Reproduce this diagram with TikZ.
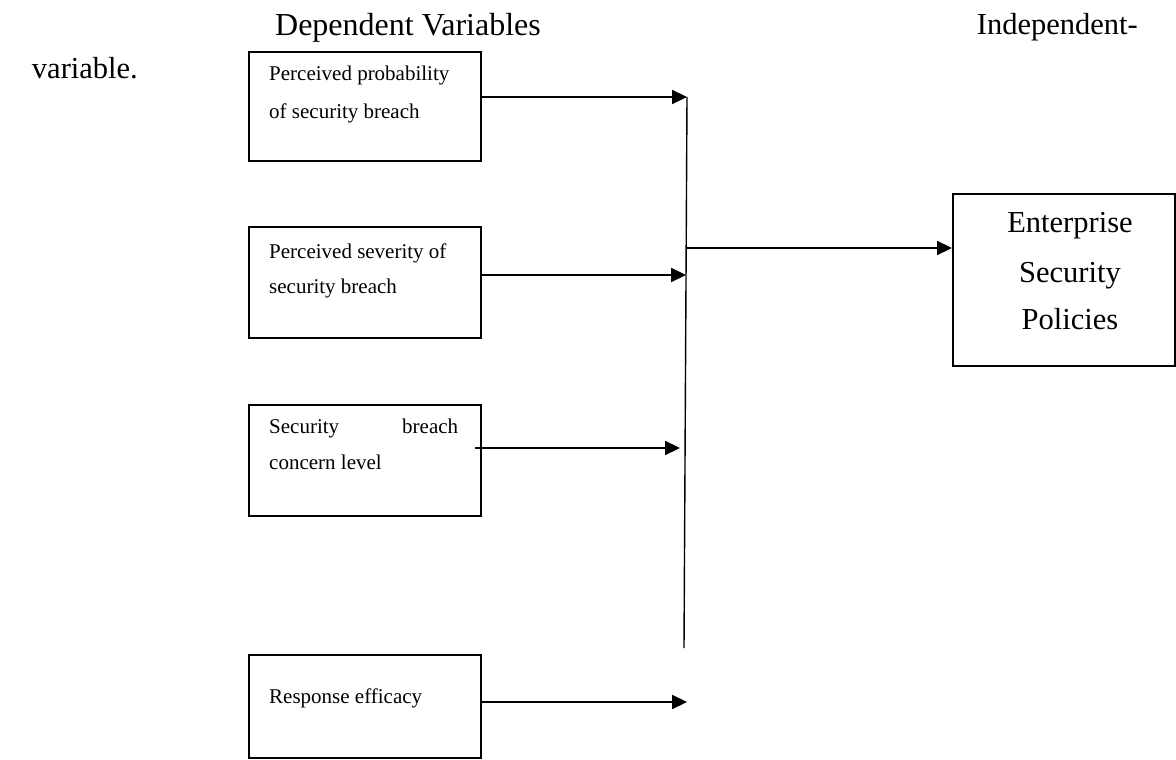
\documentclass[tikz,border=0pt]{standalone}
\usepackage{fontspec}
\setmainfont{Liberation Serif}
\usetikzlibrary{arrows.meta}
\begin{document}
\begin{tikzpicture}[x=1pt,y=-1pt,
  box/.style={draw, line width=2.4pt, inner sep=0pt, anchor=north west, minimum width=232pt},
  small/.style={font=\fontsize{21}{36}\selectfont, anchor=base west, inner sep=0pt},
  big/.style={font=\fontsize{30.5}{49}\selectfont, inner sep=0pt},
  arr/.style={line width=2.2pt, -{Triangle[length=15pt,width=14pt]}},
  vl/.style={line width=1.4pt},
]
\useasboundingbox (0,0) rectangle (1176,760);
% header texts
\node[big, font=\fontsize{32}{49}\selectfont, anchor=base] (hdep) at (408,36) {Dependent Variables};
\node[big, anchor=base east] (hind) at (1138,35) {Independent-};
\node[big, anchor=base east] (hvar) at (138,78) {variable.};
% boxes
\node[box, minimum height=109pt] (b1) at (248,51) {};
\node[box, minimum height=111pt] (b2) at (248,226) {};
\node[box, minimum height=111pt] (b3) at (248,404) {};
\node[box, minimum height=103pt] (b4) at (248,654) {};
\node[draw, line width=2.4pt, inner sep=0pt, anchor=north west, minimum width=222pt, minimum height=172pt] (rb) at (952,193) {};
% box texts
\node[small] (t1a) at (269,81) {Perceived probability};
\node[small] (t1b) at (269,118) {of security breach};
\node[small] (t2a) at (269,258) {Perceived severity of};
\node[small] (t2b) at (269,293) {security breach};
\node[small] (t3a) at (269,433) {\makebox[189pt][s]{Security\hfill breach}};
\node[small] (t3b) at (269,469) {concern level};
\node[small] (t4a) at (269,703) {Response efficacy};
\node[big, anchor=base] (r1) at (1070,232) {Enterprise};
\node[big, anchor=base] (r2) at (1070,282) {Security};
\node[big, anchor=base] (r3) at (1070,329) {Policies};
% junction coordinates
\coordinate (vtop) at (687,97);
\coordinate (vbot) at (684,648);
\coordinate (e2) at (686,275);
\coordinate (s3) at (475,448);
\coordinate (e3) at (680,448);
\coordinate (e4) at (687,702);
\coordinate (m0) at (686,248);
% connectors
\draw[vl] (vtop) -- (vbot);
\draw[arr] (b1.east |- vtop) -- (vtop);
\draw[arr] (b2.east |- e2) -- (e2);
\draw[arr] (s3) -- (e3);
\draw[arr] (b4.east |- e4) -- (e4);
\draw[arr] (m0) -- (rb.west |- m0);
\end{tikzpicture}
\end{document}
